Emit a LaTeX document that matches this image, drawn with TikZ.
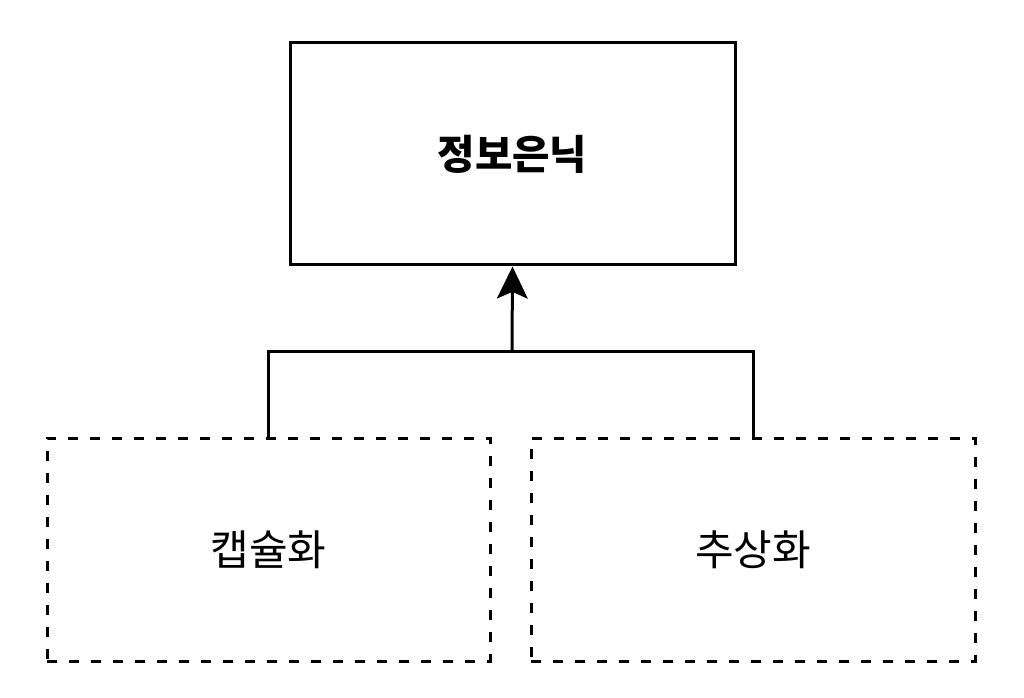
\documentclass[tikz,border=0pt]{standalone}
\usepackage{fontspec}
\newfontfamily\kr{Noto Sans CJK KR}
\usetikzlibrary{arrows.meta}
\tikzset{
  solidbox/.style={draw=black, line width=2.25pt, fill=white, inner sep=0pt, font=\kr\bfseries\fontsize{30.5}{34}\selectfont},
  dashbox/.style={draw=black, line width=2.25pt, dash pattern=on 7.5pt off 9pt, inner sep=0pt, font=\kr\fontsize{31.5}{35}\selectfont},
  link/.style={draw=black, line width=2.25pt},
}
\begin{document}
\begin{tikzpicture}[x=0.75pt,y=-0.75pt]
\useasboundingbox (0,0) rectangle (1024,698);
\node[solidbox, minimum width=333.75pt, minimum height=166.5pt] (top) at (512.5,154) {정보은닉};
\node[dashbox, minimum width=332.25pt, minimum height=167.25pt] (enc) at (268.5,549.5) {캡슐화};
\node[dashbox, minimum width=333pt, minimum height=167.25pt] (abs) at (753,549.5) {추상화};
\coordinate (j) at (512,352);
\draw[link] (enc.north) |- (j) -| (abs.north);
\draw[link, -{Stealth[length=24pt,width=23pt,inset=5pt]}] (j) -- (top.south);
\end{tikzpicture}
\end{document}
